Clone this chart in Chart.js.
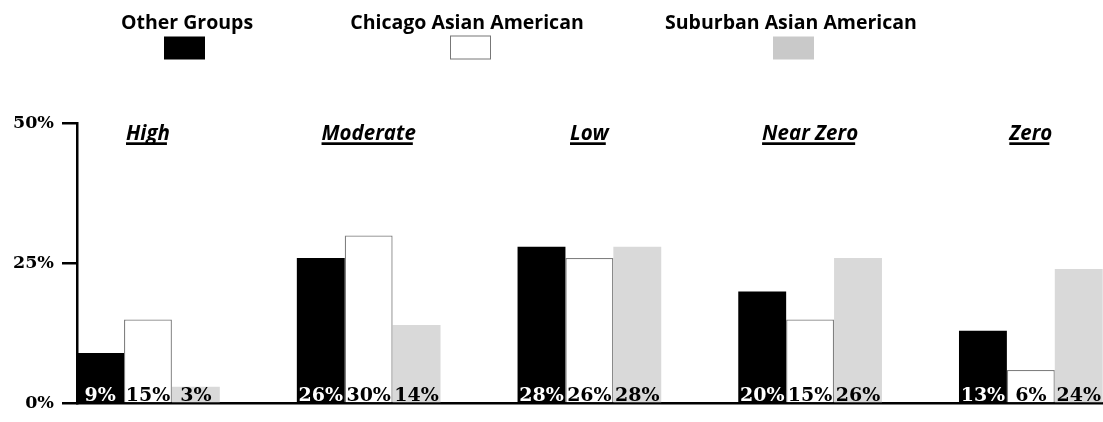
<!DOCTYPE html>
<html>
<head>
<meta charset="utf-8">
<script src="https://cdn.jsdelivr.net/npm/chart.js@4.4.1/dist/chart.umd.min.js"></script>
<style>
  html, body { margin: 0; padding: 0; background: #ffffff; overflow: hidden; }
  #wrap { position: relative; width: 1103px; height: 422px; }
</style>
</head>
<body>
<div id="wrap"><canvas id="c" width="1103" height="422"></canvas></div>
<script>
const categories = ["High", "Moderate", "Low", "Near Zero", "Zero"];
const seriesNames = ["Other Groups", "Chicago Asian American", "Suburban Asian American"];
const otherGroups = [9, 26, 28, 20, 13];
const chicagoAsian = [15, 30, 26, 15, 6];
const suburbanAsian = [3, 14, 28, 26, 24];
const yTicks = [0, 25, 50];

const toPoints = arr => arr.map((v, i) => ({ x: i, y: v }));

const LABEL_SERIF = "bold 19px 'DejaVu Serif'";
const SANS = "'Open Sans'";

const legendCenters = [187, 467, 791];
const legendBoxCenters = [184.5, 470.5, 793.5];
const legendStyles = [
  { fill: "#000000", stroke: null },
  { fill: "#ffffff", stroke: "#777777" },
  { fill: "#c9c9c9", stroke: null }
];

const decorPlugin = {
  id: "decor",
  afterDatasetsDraw(chart) {
    const ctx = chart.ctx;
    const xs = chart.scales.x;
    const area = chart.chartArea;
    ctx.save();
    // value labels at the base of each bar
    ctx.font = LABEL_SERIF;
    ctx.textAlign = "center";
    ctx.textBaseline = "alphabetic";
    chart.data.datasets.forEach((ds, di) => {
      const meta = chart.getDatasetMeta(di);
      meta.data.forEach((el, i) => {
        ctx.fillStyle = di === 0 ? "#ffffff" : "#000000";
        ctx.fillText(ds.data[i].y + "%", el.x, area.bottom - 3);
      });
    });
    // category labels (italic, underlined)
    ctx.font = "italic bold 20.5px " + SANS;
    ctx.fillStyle = "#000000";
    categories.forEach((c, i) => {
      const x = xs.getPixelForValue(i);
      const w = ctx.measureText(c).width;
      ctx.fillText(c, x, 139.5);
      ctx.fillRect(x - w / 2, 142.3, w - 3, 2.7);
    });
    // legend
    seriesNames.forEach((n, i) => {
      const cx = legendCenters[i];
      ctx.font = "bold 19.5px " + SANS;
      ctx.fillStyle = "#000000";
      ctx.fillText(n, cx, 28.5);
      const st = legendStyles[i];
      const bx = legendBoxCenters[i];
      ctx.fillStyle = st.fill;
      ctx.fillRect(bx - 20.5, 36.5, 41, 23);
      if (st.stroke) {
        ctx.strokeStyle = st.stroke;
        ctx.lineWidth = 1;
        ctx.strokeRect(bx - 20, 36, 40, 23);
      }
    });
    ctx.restore();
  }
};

new Chart(document.getElementById("c"), {
  type: "bar",
  data: {
    datasets: [
      { label: seriesNames[0], data: toPoints(otherGroups), backgroundColor: "#000000", borderWidth: 0 },
      { label: seriesNames[1], data: toPoints(chicagoAsian), backgroundColor: "#ffffff", borderColor: "#808080", borderWidth: 1.3, borderSkipped: "bottom" },
      { label: seriesNames[2], data: toPoints(suburbanAsian), backgroundColor: "#d9d9d9", borderWidth: 0 }
    ]
  },
  options: {
    responsive: false,
    animation: false,
    devicePixelRatio: 1,
    categoryPercentage: 0.651,
    barPercentage: 1,
    layout: { padding: { top: 123.5, bottom: 13.3, left: 0, right: 0 } },
    plugins: { legend: { display: false }, tooltip: { enabled: false } },
    scales: {
      x: {
        type: "linear",
        bounds: "data",
        offset: false,
        min: -0.3215,
        max: 4.327,
        afterBuildTicks(s) { s.ticks = categories.map((c, i) => ({ value: i })); },
        ticks: { display: false },
        grid: { display: false, drawTicks: false, offset: false },
        border: { display: true, color: "#000000", width: 2.5 },
        afterFit(s) { s.height = 0; }
      },
      y: {
        min: 0,
        max: 50,
        bounds: "data",
        afterBuildTicks(s) { s.ticks = yTicks.map(v => ({ value: v })); },
        ticks: {
          callback: v => v + "%",
          color: "#000000",
          font: { family: "DejaVu Serif", weight: "bold", size: 17.5 },
          padding: 8
        },
        grid: { drawOnChartArea: false, drawTicks: true, tickLength: 15, tickWidth: 2.5, tickColor: "#000000", lineWidth: 2.5, color: "#000000" },
        border: { display: true, color: "#000000", width: 2.5 },
        afterFit(s) { s.width = 77; }
      }
    }
  },
  plugins: [decorPlugin]
});
</script>
</body>
</html>
